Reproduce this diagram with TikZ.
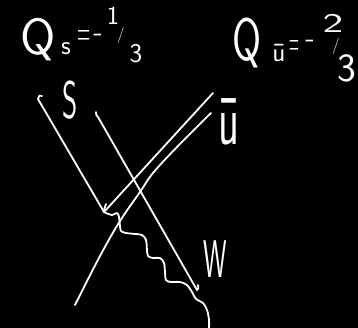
\documentclass[tikz,border=0pt]{standalone}
\usepackage{fontspec}
\usepackage{graphicx}
\tikzset{
  ln/.style={draw=white, line width=1.8pt, line cap=round, line join=round},
  hand/.style={text=white, inner sep=0pt, outer sep=0pt, font=\sffamily, anchor=base},
}
\newcommand{\fsz}[1]{\fontsize{#1}{#1}\selectfont}
\begin{document}
\begin{tikzpicture}[x=1pt,y=-1pt]
\fill[black] (0,0) rectangle (358,328);
\useasboundingbox (0,0) rectangle (358,328);

% charge of s
\node[hand] (qs) at (38,55) {\fsz{51}Q};
\node[hand] (qssub) at (66,55) {\fsz{27}s};
\node[hand] (qseq) at (84,47) {\fsz{30}\scalebox{0.6}[1.5]{=}};
\node[hand] (qsmin) at (98,42) {\fsz{30}-};
\node[hand] (qsnum) at (113,25) {\fsz{26}1};
\node[hand] (qsslash) at (121,40) {\fsz{16}/};
\node[hand] (qsden) at (136,63) {\fsz{27}3};

% charge of u-bar
\node[hand] (qu) at (247,61) {\fsz{60}\scalebox{0.7}[1]{Q}};
\node[hand] (qusub) at (279,62) {\fsz{27}ū};
\node[hand] (queq) at (294,57) {\fsz{30}\scalebox{0.45}[1.5]{=}};
\node[hand] (qumin) at (310,48) {\fsz{30}-};
\node[hand] (qunum) at (333,33) {\fsz{27}\scalebox{1.6}[1]{2}};
\node[hand] (quslash) at (336,51) {\fsz{16}/};
\node[hand] (quden) at (347,82) {\fsz{40}3};

% line labels
\node[hand] (lbls) at (70,119) {\fsz{53}\scalebox{0.55}[1]{S}};
\node[hand] (lblu) at (229,145) {\fsz{72}\scalebox{0.6}[1]{ū}};
\node[hand] (lblw) at (215,277) {\fsz{53}\scalebox{0.5}[1]{W}};

% points
\coordinate (v) at (104,212);
\coordinate (s1hook) at (42,96);
\coordinate (s1top) at (38,99);
\coordinate (s2hook) at (96,112);
\coordinate (s2top) at (98,117);
\coordinate (s2end) at (197,290);
\coordinate (s2tick) at (198,285);
\coordinate (u1top) at (213,93);
\coordinate (u2top) at (211,113);
\coordinate (u2end) at (75,305);
\coordinate (wtick) at (106,204);
\coordinate (wend) at (209,330);

% incoming s
\draw[ln] (s1hook) .. controls (39.5,95) .. (s1top) -- (v);
% spectator s
\draw[ln] (s2hook) .. controls (96,115) .. (s2top) -- (s2end) .. controls (198.5,289) .. (s2tick);
% u-bar lines
\draw[ln] (u1top) -- (v);
\draw[ln] plot[smooth, tension=0.6] coordinates {(u2top) (177,147) (153,173) (140,192) (120,221) (100,256) (u2end)};
% W boson
\draw[ln] plot[smooth, tension=0.55] coordinates {(wtick) (104,210) (v) (112,215) (117,213) (119,217) (120,226) (121,231) (126,233) (135,234) (142,235) (146,240) (147,250) (148,256) (153,258) (160,258) (164,263) (165,272) (166,280) (171,282) (180,282) (187,285) (192,292) (196,299) (203,303) (207,310) (209,320) (wend)};
\end{tikzpicture}
\end{document}
